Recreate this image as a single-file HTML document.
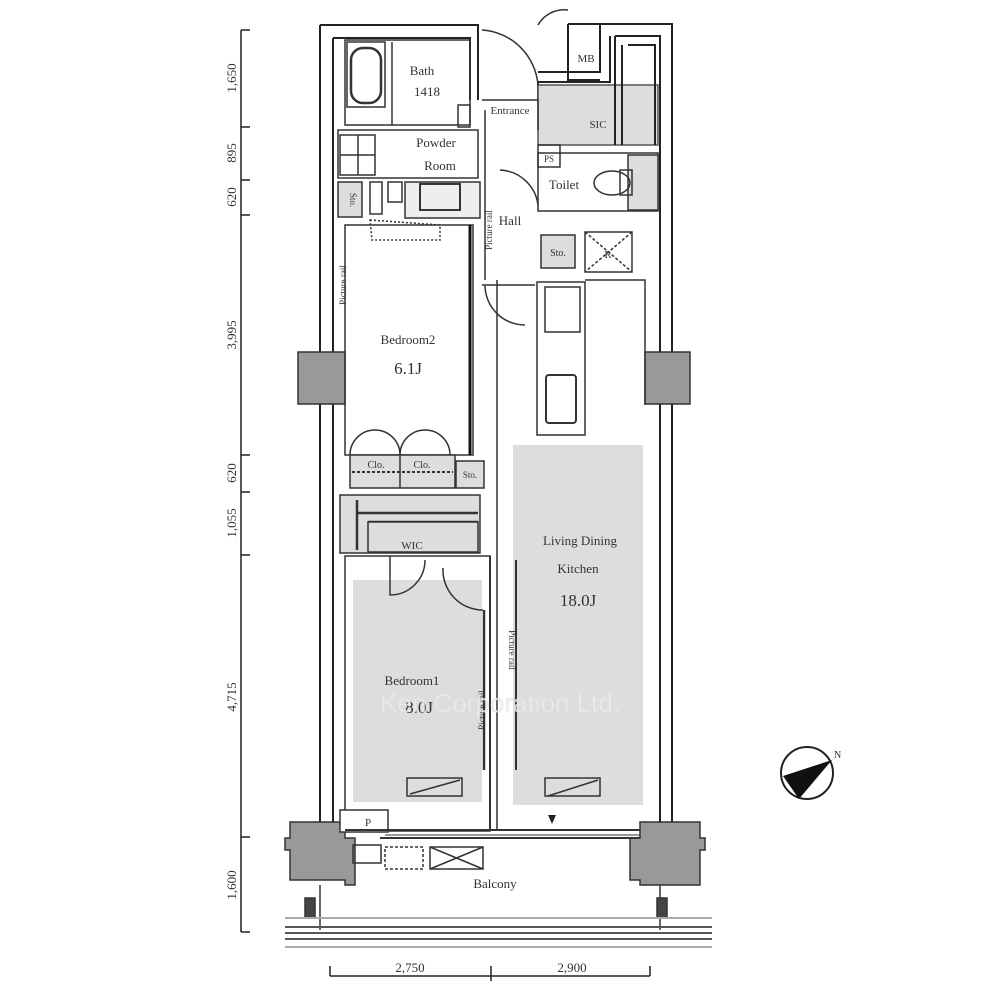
<!DOCTYPE html>
<html><head><meta charset="utf-8"><style>
html,body{margin:0;padding:0;background:#fff;}
svg{display:block}
text{font-family:"Liberation Serif",serif;fill:#333}
</style></head><body>
<svg width="1000" height="1000" viewBox="0 0 1000 1000" xmlns="http://www.w3.org/2000/svg">
<g fill="none" stroke="#222" stroke-width="2">
<path d="M320 25 V352 M333 38 V352" />
<path d="M320 25 H478 V100 M333 38 H470 V100" stroke-width="2"/>
<path d="M320 403 V822 M333 403 V822"/>
<path d="M568 24 H672 V352 M615 36 H660 V352"/>
<path d="M568 24 V80 H600" />
<path d="M672 403 V822 M660 403 V822"/>
<path d="M600 25 V72 H538 M610 36 V82 H538 V100"/>
<rect x="538" y="85" width="120" height="60" fill="#ddd" stroke="#555" stroke-width="1.5"/>
<path d="M615 36 V145 M622 45 V145 M628 45 H655 V145"/>
</g>
<g fill="#999" stroke="#333" stroke-width="1.5">
<rect x="298" y="352" width="47" height="52"/>
<rect x="645" y="352" width="45" height="52"/>
<path d="M290 822 H345 V838 H355 V885 H345 V880 H290 V850 H285 V838 H290Z"/>
<path d="M640 822 H700 V838 H705 V850 H700 V885 H640 V880 H630 V838 H640Z"/>
</g>
<g fill="none" stroke="#333" stroke-width="1.5">
<rect x="345" y="40" width="125" height="85"/>
<rect x="347" y="42" width="38" height="65"/>
<rect x="351" y="48" width="30" height="55" rx="12" stroke-width="2.5"/>
<line x1="392" y1="42" x2="392" y2="125"/>
<rect x="458" y="105" width="12" height="22"/>
<rect x="338" y="130" width="140" height="48"/>
<rect x="340" y="135" width="35" height="40"/>
<line x1="358" y1="135" x2="358" y2="175"/><line x1="340" y1="155" x2="375" y2="155"/>
<rect x="338" y="182" width="24" height="35" fill="#ddd"/>
<rect x="370" y="182" width="12" height="32"/>
<rect x="388" y="182" width="14" height="20"/>
<rect x="405" y="182" width="75" height="36" fill="#eee"/>
<rect x="420" y="184" width="40" height="26" stroke-width="2"/>
<rect x="345" y="225" width="128" height="230"/>
<path d="M470 225 V455" stroke-width="3" stroke="#111"/>
<path d="M370 220 L440 225 L440 240 L372 240 Z" stroke-dasharray="2 2"/>
<rect x="350" y="455" width="105" height="33" fill="#ddd"/>
<line x1="400" y1="455" x2="400" y2="488"/>
<line x1="352" y1="472" x2="453" y2="472" stroke-dasharray="3 2" stroke-width="2"/>
<rect x="456" y="461" width="28" height="27" fill="#ddd"/>
<path d="M350 455 A25 25 0 0 1 375 430 M400 455 A25 25 0 0 0 375 430 M400 455 A25 25 0 0 1 425 430 M450 455 A25 25 0 0 0 425 430"/>
<rect x="340" y="495" width="140" height="58" fill="#ddd"/>
<path d="M357 500 V550 M357 513 H478 M368 522 H478" stroke-width="2.5"/>
<rect x="368" y="522" width="110" height="30" fill="#ddd"/>
<rect x="345" y="556" width="145" height="275"/>
<rect x="353" y="580" width="129" height="222" fill="#ddd" stroke="none"/>
<path d="M390 556 V595 A35 35 0 0 0 425 560"/>
<path d="M443 568 A40 40 0 0 0 483 610" />
<line x1="490" y1="556" x2="490" y2="830" stroke-width="2"/>
<line x1="484" y1="610" x2="484" y2="770" stroke-width="2.5"/>
<rect x="407" y="778" width="55" height="18"/>
<line x1="410" y1="794" x2="460" y2="780"/>
<rect x="340" y="810" width="48" height="22" fill="#fff"/>
<rect x="513" y="445" width="130" height="360" fill="#ddd" stroke="none"/>
<line x1="497" y1="280" x2="497" y2="830" stroke-width="1.5"/>
<line x1="516" y1="560" x2="516" y2="770" stroke-width="2"/>
<rect x="545" y="778" width="55" height="18"/>
<line x1="548" y1="796" x2="598" y2="780"/>
<path d="M537 282 V435 H585 V282 Z"/>
<rect x="545" y="287" width="35" height="45"/>
<rect x="546" y="375" width="30" height="48" rx="3" stroke-width="2"/>
<path d="M585 280 H645 V405"/>
<path d="M482 100 H538 V130"/>
<line x1="485" y1="110" x2="485" y2="280"/>
<path d="M482 30 A60 60 0 0 1 538 85"/>
<path d="M538 25 A30 30 0 0 1 568 10"/>
<rect x="538" y="145" width="22" height="22"/>
<rect x="538" y="153" width="120" height="58"/>
<rect x="628" y="155" width="30" height="55" fill="#ddd"/>
<ellipse cx="612" cy="183" rx="18" ry="12"/>
<rect x="620" y="170" width="12" height="25"/>
<path d="M500 170 A40 40 0 0 1 538 205"/>
<rect x="541" y="235" width="34" height="33" fill="#ddd"/>
<rect x="585" y="232" width="47" height="40"/>
<path d="M585 232 L632 272 M632 232 L585 272" stroke-dasharray="3 2"/>
<path d="M482 285 H535 M485 285 A40 40 0 0 0 525 325"/>
<path d="M345 830 H640 M380 838 H640" stroke-width="2"/>
<path d="M385 835 H640" stroke-width="1"/>
<rect x="353" y="845" width="28" height="18"/>
<rect x="385" y="847" width="38" height="22" stroke-dasharray="3 2"/>
<rect x="430" y="847" width="53" height="22"/>
<path d="M430 847 L483 869 M483 847 L430 869"/>
<path d="M320 885 V930 M660 885 V930"/>
<rect x="305" y="898" width="10" height="20" fill="#444"/>
<rect x="657" y="898" width="10" height="20" fill="#444"/>
</g>
<g stroke="#555" stroke-width="2">
<line x1="285" y1="918" x2="712" y2="918" stroke="#aaa"/>
<line x1="285" y1="927" x2="712" y2="927"/>
<line x1="285" y1="933" x2="712" y2="933"/>
<line x1="285" y1="939" x2="712" y2="939"/>
<line x1="285" y1="947" x2="712" y2="947" stroke="#aaa"/>
</g>
<path d="M548 815 L556 815 L552 824Z" fill="#222"/>
<g stroke="#222" stroke-width="1.5" fill="none">
<line x1="241" y1="30" x2="241" y2="932"/>
<path d="M241 30 H250 M241 127 H250 M241 180 H250 M241 215 H250 M241 455 H250 M241 492 H250 M241 555 H250 M241 837 H250 M241 932 H250"/>
<line x1="330" y1="976" x2="650" y2="976"/>
<path d="M330 966 V976 M491 966 V981 M650 966 V976"/>
</g>
<g font-size="13">
<text transform="translate(236,78) rotate(-90)" text-anchor="middle">1,650</text>
<text transform="translate(236,153) rotate(-90)" text-anchor="middle">895</text>
<text transform="translate(236,197) rotate(-90)" text-anchor="middle">620</text>
<text transform="translate(236,335) rotate(-90)" text-anchor="middle">3,995</text>
<text transform="translate(236,473) rotate(-90)" text-anchor="middle">620</text>
<text transform="translate(236,523) rotate(-90)" text-anchor="middle">1,055</text>
<text transform="translate(236,697) rotate(-90)" text-anchor="middle">4,715</text>
<text transform="translate(236,885) rotate(-90)" text-anchor="middle">1,600</text>
<text x="410" y="972" text-anchor="middle">2,750</text>
<text x="572" y="972" text-anchor="middle">2,900</text>
</g>
<circle cx="807" cy="773" r="26" fill="none" stroke="#222" stroke-width="2"/>
<path d="M783 776 L832 760 L799 799 Z" fill="#111"/>
<text x="834" y="758" font-size="10">N</text>
<g font-size="13" text-anchor="middle">
<text x="422" y="75">Bath</text>
<text x="427" y="96">1418</text>
<text x="436" y="147">Powder</text>
<text x="440" y="170">Room</text>
<text x="510" y="114" font-size="11">Entrance</text>
<text x="586" y="62" font-size="11">MB</text>
<text x="598" y="128" font-size="11">SIC</text>
<text x="549" y="162" font-size="9">PS</text>
<text x="564" y="189">Toilet</text>
<text x="510" y="225">Hall</text>
<text x="558" y="256" font-size="10">Sto.</text>
<text x="608" y="258" font-size="11">R</text>
<text x="408" y="344">Bedroom2</text>
<text x="408" y="374" font-size="17">6.1J</text>
<text x="376" y="468" font-size="10">Clo.</text>
<text x="422" y="468" font-size="10">Clo.</text>
<text x="470" y="478" font-size="9">Sto.</text>
<text x="412" y="549" font-size="11">WIC</text>
<text x="580" y="545">Living Dining</text>
<text x="578" y="573">Kitchen</text>
<text x="578" y="606" font-size="17">18.0J</text>
<text x="412" y="685">Bedroom1</text>
<text x="419" y="713" font-size="17">8.0J</text>
<text x="368" y="826" font-size="11">P</text>
<text x="495" y="888">Balcony</text>
<text x="350" y="200" font-size="9" transform="rotate(90 350 200)">Sto.</text>
<text transform="translate(346,285) rotate(-90)" font-size="9">Picture rail</text>
<text transform="translate(492,230) rotate(-90)" font-size="9">Picture rail</text>
<text transform="translate(485,710) rotate(-90)" font-size="9">Picture rail</text>
<text transform="translate(509,650) rotate(90)" font-size="9">Picture rail</text>
</g>
<text x="500" y="712" font-size="26" text-anchor="middle" style="font-family:'Liberation Sans',sans-serif;fill:#eee;stroke:#ddd;stroke-width:0.5;opacity:0.8">Ken Corporation Ltd.</text>
</svg>
</body></html>
